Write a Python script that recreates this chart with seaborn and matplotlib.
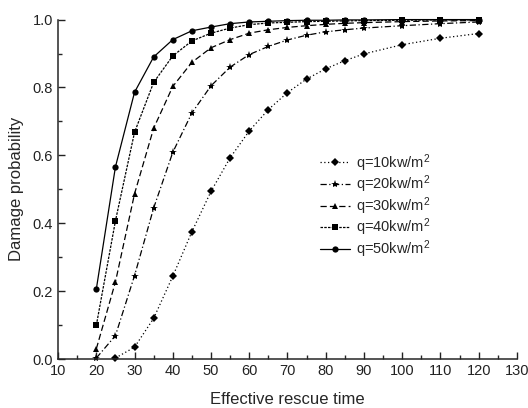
import numpy as np
import pandas as pd
import seaborn as sns
import matplotlib.pyplot as plt
from matplotlib.ticker import MultipleLocator

# rescue time points
t_all = [20, 25, 30, 35, 40, 45, 50, 55, 60, 65, 70, 75, 80, 85, 90, 100, 110, 120]

q10 = [0.003, 0.035, 0.12, 0.244, 0.375, 0.494, 0.593, 0.672, 0.735, 0.785,
       0.825, 0.855, 0.879, 0.899, 0.926, 0.945, 0.959]
q20 = [0.003, 0.069, 0.246, 0.445, 0.609, 0.725, 0.805, 0.86, 0.897, 0.921,
       0.94, 0.954, 0.964, 0.97, 0.975, 0.982, 0.988, 0.993]
q30 = [0.03, 0.227, 0.487, 0.68, 0.803, 0.874, 0.917, 0.941, 0.96, 0.97,
       0.977, 0.982, 0.986, 0.989, 0.991, 0.994, 0.996, 0.997]
q40 = [0.099, 0.407, 0.668, 0.815, 0.893, 0.937, 0.96, 0.975, 0.985, 0.99,
       0.992, 0.994, 0.995, 0.996, 0.997, 0.998, 0.999, 0.999]
q50 = [0.206, 0.566, 0.786, 0.89, 0.941, 0.967, 0.978, 0.988, 0.993, 0.995,
       0.997, 0.998, 0.998, 0.999, 0.999, 1.0, 1.0, 1.0]

labels = ['q=10kw/m$^2$', 'q=20kw/m$^2$', 'q=30kw/m$^2$', 'q=40kw/m$^2$', 'q=50kw/m$^2$']
series = [q10, q20, q30, q40, q50]

sns.set_style("ticks")
plt.rcParams['font.family'] = ['Liberation Sans', 'DejaVu Sans']
plt.rcParams['mathtext.fontset'] = 'custom'
plt.rcParams['mathtext.rm'] = 'Liberation Sans'
plt.rcParams['mathtext.it'] = 'Liberation Sans'
plt.rcParams['xtick.direction'] = 'in'
plt.rcParams['ytick.direction'] = 'in'

fig = plt.figure(figsize=(5.28, 4.08), dpi=100)
ax = fig.add_axes([0.11, 0.12, 0.869, 0.832])

estilos = [
    dict(marker='D', linestyle=(0, (1, 2)), markersize=4),
    dict(marker='*', linestyle=(0, (5, 2, 1, 2)), markersize=6),
    dict(marker='^', linestyle=(0, (5, 2.5)), markersize=5),
    dict(marker='s', linestyle=(0, (2, 1)), markersize=4),
    dict(marker='o', linestyle='-', markersize=4.5),
]

for vals, lab, st in zip(series, labels, estilos):
    xs = t_all[len(t_all) - len(vals):]
    sns.lineplot(x=xs, y=vals, ax=ax, color='black', linewidth=0.9,
                 label=lab, markeredgewidth=0, clip_on=False, **st)

ax.set_xlim(10, 130)
ax.set_ylim(0, 1.0)
ax.xaxis.set_major_locator(MultipleLocator(10))
ax.xaxis.set_minor_locator(MultipleLocator(5))
ax.yaxis.set_major_locator(MultipleLocator(0.2))
ax.yaxis.set_minor_locator(MultipleLocator(0.1))
ax.yaxis.set_major_formatter(plt.FormatStrFormatter('%.1f'))
ax.tick_params(which='major', length=5, width=1, labelsize=10.5, colors='#222222')
ax.tick_params(which='minor', length=3, width=1)
sns.despine(ax=ax)
for s in ['left', 'bottom']:
    ax.spines[s].set_linewidth(1.1)

ax.set_xlabel('Effective rescue time', fontsize=12, labelpad=10)
ax.set_ylabel('Damage probability', fontsize=12, labelpad=6)

ax.legend(loc='upper left', bbox_to_anchor=(0.57, 0.61), frameon=False,
          fontsize=10.5, handlelength=2.1, labelspacing=0.0, handletextpad=0.4,
          borderpad=0, borderaxespad=0)

fig.savefig('out.png', dpi=100)
